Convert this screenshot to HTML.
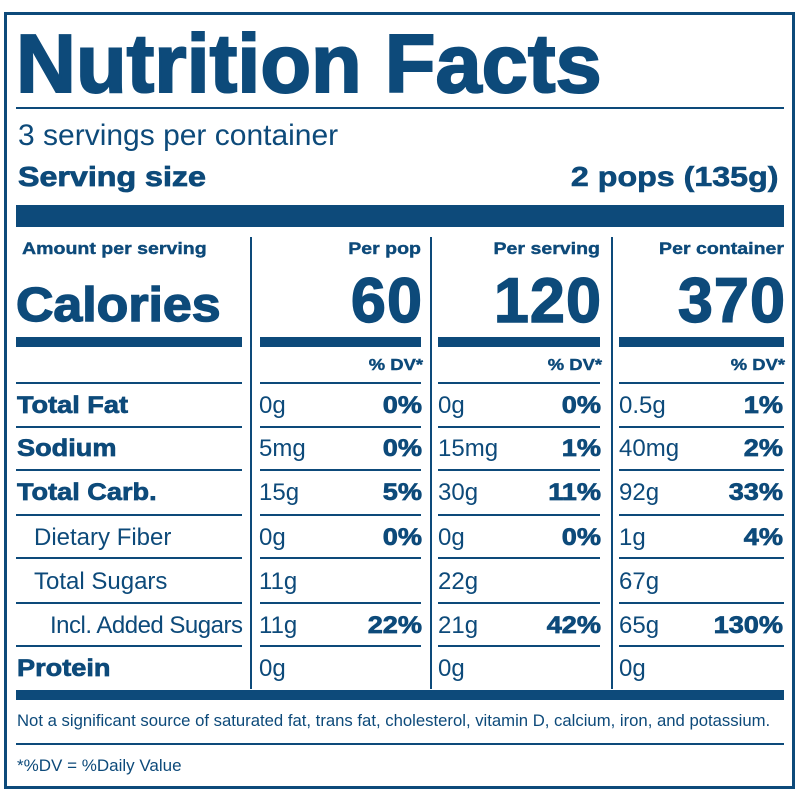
<!DOCTYPE html>
<html><head><meta charset="utf-8"><style>
body{margin:0;width:800px;height:800px;background:#fff;position:relative;overflow:hidden;font-family:"Liberation Sans",sans-serif;color:#0d4a7a}
div{position:absolute;white-space:nowrap;line-height:1}
.b{font-weight:bold}
.bar{background:#0d4a7a}
.r{text-align:right}
.t{font-size:24px}
.b.t{-webkit-text-stroke:0.7px #0d4a7a;transform:scaleX(1.13);transform-origin:left}
.b.t.r{transform-origin:right}
.h{font-size:17px;-webkit-text-stroke:0.4px #0d4a7a;transform:scaleX(1.15);transform-origin:left}
.h.r{transform-origin:right}
</style></head><body>
<div style="left:4px;top:12px;width:785px;height:771px;border:3px solid #0d4a7a"></div>
<div class="b" style="left:16px;top:22px;font-size:83px;letter-spacing:0px;-webkit-text-stroke:2px #0d4a7a">Nutrition Facts</div>
<div class="bar" style="left:16px;top:107px;width:768px;height:2px"></div>
<div style="left:18px;top:121px;font-size:30px">3 servings per container</div>
<div class="b" style="left:18px;top:163px;font-size:28px;-webkit-text-stroke:0.8px #0d4a7a;transform:scaleX(1.15);transform-origin:left">Serving size</div>
<div class="b r" style="right:22px;top:163px;font-size:28px;-webkit-text-stroke:0.6px #0d4a7a;transform:scaleX(1.15);transform-origin:right">2 pops (135g)</div>
<div class="bar" style="left:16px;top:205px;width:768px;height:22px"></div>

<div class="bar" style="left:250px;top:237px;width:2px;height:452px"></div>
<div class="bar" style="left:430px;top:237px;width:2px;height:452px"></div>
<div class="bar" style="left:611px;top:237px;width:2px;height:452px"></div>

<div class="b h" style="left:22px;top:240px">Amount per serving</div>
<div class="b" style="left:16px;top:282px;font-size:48px;-webkit-text-stroke:1.4px #0d4a7a;transform:scaleX(1.08);transform-origin:left">Calories</div>
<div class="b r h" style="left:260px;width:161px;top:240px">Per pop</div>
<div class="b r h" style="left:438px;width:162px;top:240px">Per serving</div>
<div class="b r h" style="left:619px;width:165px;top:240px">Per container</div>
<div class="b r" style="left:260px;width:163px;top:270px;font-size:63px;letter-spacing:1px;-webkit-text-stroke:1.4px #0d4a7a">60</div>
<div class="b r" style="left:438px;width:164px;top:270px;font-size:63px;letter-spacing:1px;-webkit-text-stroke:1.4px #0d4a7a">120</div>
<div class="b r" style="left:619px;width:167px;top:270px;font-size:63px;letter-spacing:1px;-webkit-text-stroke:1.4px #0d4a7a">370</div>

<div class="bar" style="left:16px;top:337px;width:226px;height:10px"></div>
<div class="bar" style="left:260px;top:337px;width:161px;height:10px"></div>
<div class="bar" style="left:438px;top:337px;width:162px;height:10px"></div>
<div class="bar" style="left:619px;top:337px;width:165px;height:10px"></div>
<div class="b r h" style="left:260px;width:163px;top:358px;font-size:16px">% DV*</div>
<div class="b r h" style="left:438px;width:164px;top:358px;font-size:16px">% DV*</div>
<div class="b r h" style="left:619px;width:166px;top:358px;font-size:16px">% DV*</div>

<div class="bar" style="left:16px;top:382px;width:226px;height:2px"></div><div class="bar" style="left:260px;top:382px;width:161px;height:2px"></div><div class="bar" style="left:438px;top:382px;width:162px;height:2px"></div><div class="bar" style="left:619px;top:382px;width:165px;height:2px"></div>
<div class="bar" style="left:16px;top:426px;width:226px;height:2px"></div><div class="bar" style="left:260px;top:426px;width:161px;height:2px"></div><div class="bar" style="left:438px;top:426px;width:162px;height:2px"></div><div class="bar" style="left:619px;top:426px;width:165px;height:2px"></div>
<div class="bar" style="left:16px;top:469px;width:226px;height:2px"></div><div class="bar" style="left:260px;top:469px;width:161px;height:2px"></div><div class="bar" style="left:438px;top:469px;width:162px;height:2px"></div><div class="bar" style="left:619px;top:469px;width:165px;height:2px"></div>
<div class="bar" style="left:16px;top:514px;width:226px;height:2px"></div><div class="bar" style="left:260px;top:514px;width:161px;height:2px"></div><div class="bar" style="left:438px;top:514px;width:162px;height:2px"></div><div class="bar" style="left:619px;top:514px;width:165px;height:2px"></div>
<div class="bar" style="left:16px;top:557px;width:226px;height:2px"></div><div class="bar" style="left:260px;top:557px;width:161px;height:2px"></div><div class="bar" style="left:438px;top:557px;width:162px;height:2px"></div><div class="bar" style="left:619px;top:557px;width:165px;height:2px"></div>
<div class="bar" style="left:16px;top:602px;width:226px;height:2px"></div><div class="bar" style="left:260px;top:602px;width:161px;height:2px"></div><div class="bar" style="left:438px;top:602px;width:162px;height:2px"></div><div class="bar" style="left:619px;top:602px;width:165px;height:2px"></div>
<div class="bar" style="left:16px;top:645px;width:226px;height:2px"></div><div class="bar" style="left:260px;top:645px;width:161px;height:2px"></div><div class="bar" style="left:438px;top:645px;width:162px;height:2px"></div><div class="bar" style="left:619px;top:645px;width:165px;height:2px"></div>

<div class="b t" style="left:17px;top:394px">Total Fat</div>
<div class="b t" style="left:17px;top:437px">Sodium</div>
<div class="b t" style="left:17px;top:481px">Total Carb.</div>
<div class="t" style="left:34px;top:526px">Dietary Fiber</div>
<div class="t" style="left:34px;top:570px">Total Sugars</div>
<div class="t" style="left:50px;top:614px;letter-spacing:-0.5px">Incl. Added Sugars</div>
<div class="b t" style="left:17px;top:657px">Protein</div>

<div class="t" style="left:259px;top:394px">0g</div><div class="b t r" style="left:260px;width:162px;top:394px">0%</div>
<div class="t" style="left:259px;top:437px">5mg</div><div class="b t r" style="left:260px;width:162px;top:437px">0%</div>
<div class="t" style="left:259px;top:481px">15g</div><div class="b t r" style="left:260px;width:162px;top:481px">5%</div>
<div class="t" style="left:259px;top:526px">0g</div><div class="b t r" style="left:260px;width:162px;top:526px">0%</div>
<div class="t" style="left:259px;top:570px">11g</div>
<div class="t" style="left:259px;top:614px">11g</div><div class="b t r" style="left:260px;width:162px;top:614px">22%</div>
<div class="t" style="left:259px;top:657px">0g</div>

<div class="t" style="left:438px;top:394px">0g</div><div class="b t r" style="left:438px;width:163px;top:394px">0%</div>
<div class="t" style="left:438px;top:437px">15mg</div><div class="b t r" style="left:438px;width:163px;top:437px">1%</div>
<div class="t" style="left:438px;top:481px">30g</div><div class="b t r" style="left:438px;width:163px;top:481px">11%</div>
<div class="t" style="left:438px;top:526px">0g</div><div class="b t r" style="left:438px;width:163px;top:526px">0%</div>
<div class="t" style="left:438px;top:570px">22g</div>
<div class="t" style="left:438px;top:614px">21g</div><div class="b t r" style="left:438px;width:163px;top:614px">42%</div>
<div class="t" style="left:438px;top:657px">0g</div>

<div class="t" style="left:619px;top:394px">0.5g</div><div class="b t r" style="left:619px;width:164px;top:394px">1%</div>
<div class="t" style="left:619px;top:437px">40mg</div><div class="b t r" style="left:619px;width:164px;top:437px">2%</div>
<div class="t" style="left:619px;top:481px">92g</div><div class="b t r" style="left:619px;width:164px;top:481px">33%</div>
<div class="t" style="left:619px;top:526px">1g</div><div class="b t r" style="left:619px;width:164px;top:526px">4%</div>
<div class="t" style="left:619px;top:570px">67g</div>
<div class="t" style="left:619px;top:614px">65g</div><div class="b t r" style="left:619px;width:164px;top:614px">130%</div>
<div class="t" style="left:619px;top:657px">0g</div>

<div class="bar" style="left:16px;top:690px;width:768px;height:10px"></div>
<div style="left:17px;top:713px;font-size:16.7px">Not a significant source of saturated fat, trans fat, cholesterol, vitamin D, calcium, iron, and potassium.</div>
<div class="bar" style="left:16px;top:743px;width:768px;height:2px"></div>
<div style="left:17px;top:757px;font-size:17px">*%DV = %Daily Value</div>
</body></html>
